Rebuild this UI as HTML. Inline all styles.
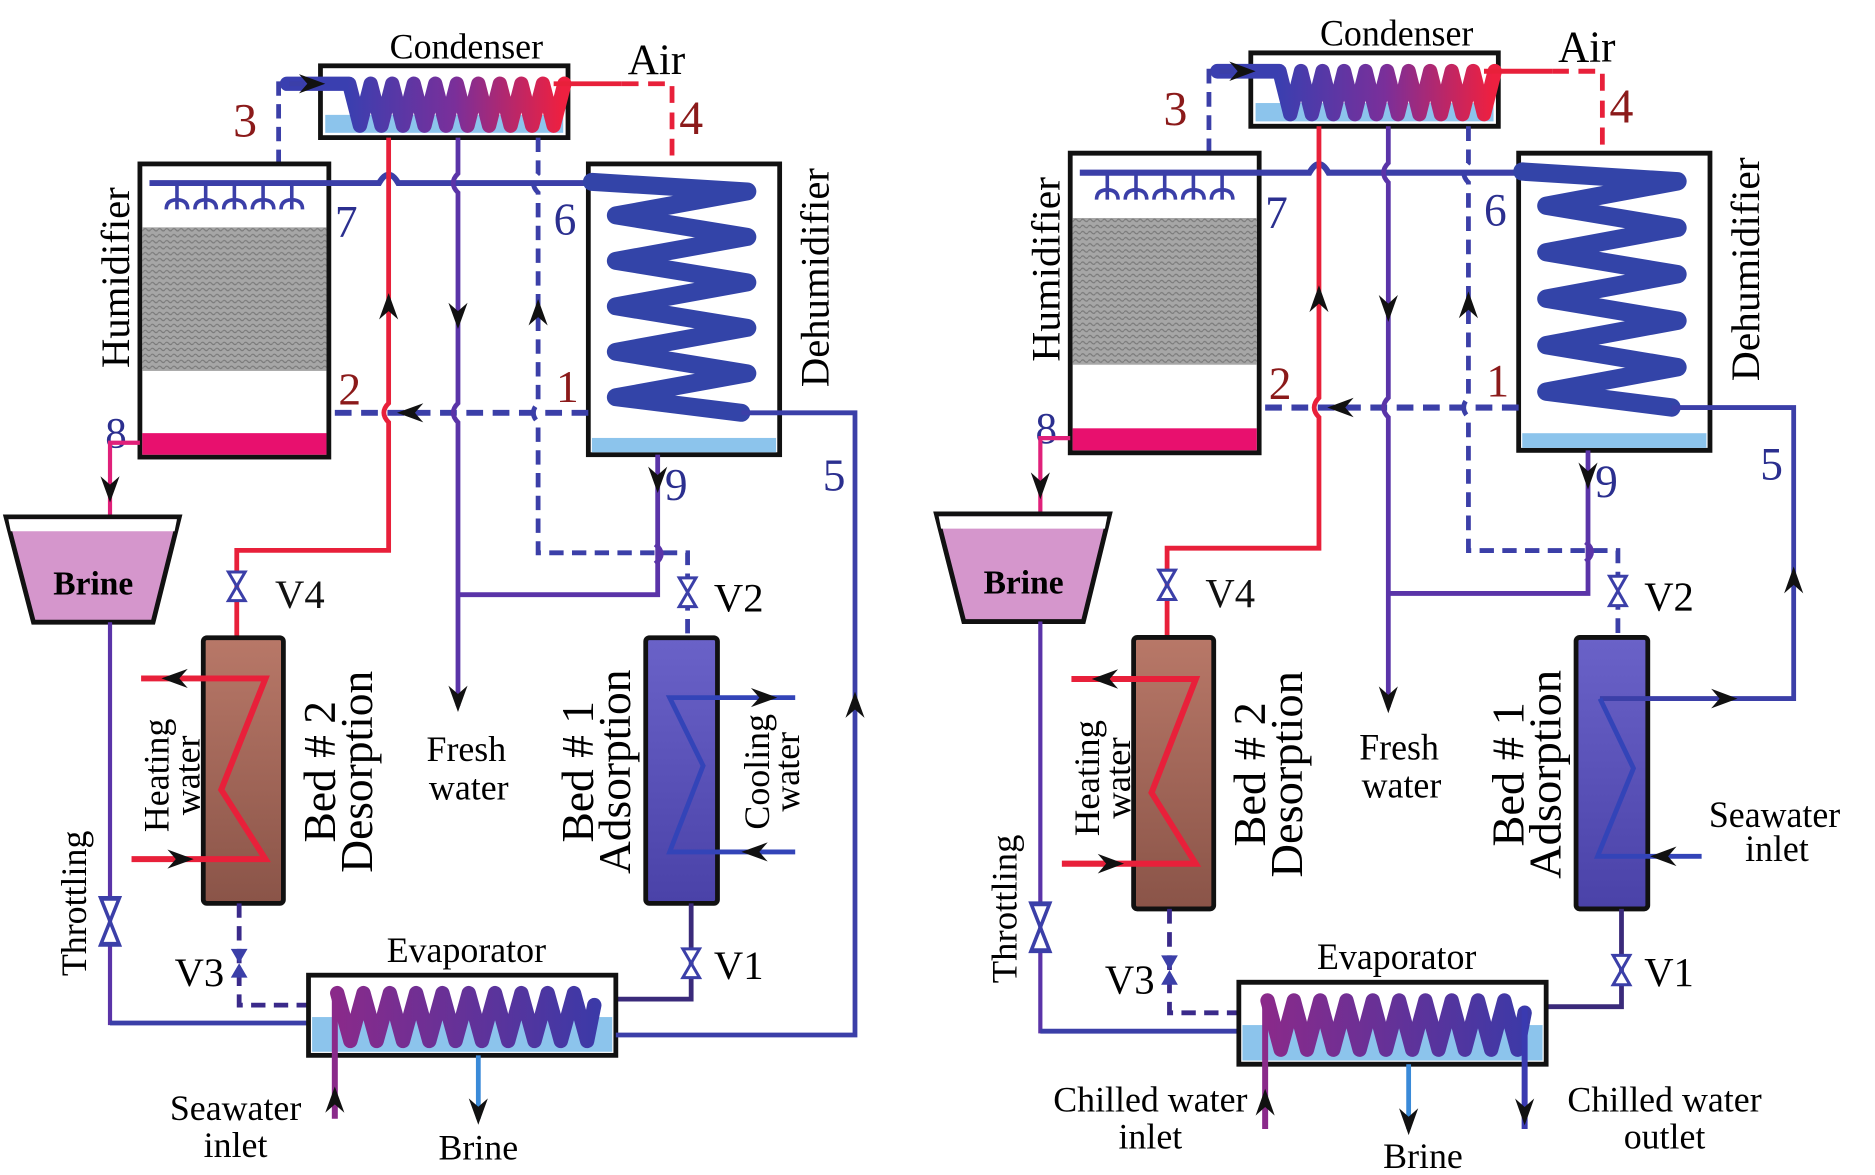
<!DOCTYPE html>
<html><head><meta charset="utf-8"><style>
html,body{margin:0;padding:0;background:#fff;}
svg{display:block;}
text{font-family:"Liberation Serif",serif;}
</style></head><body>
<svg width="1875" height="1175" viewBox="0 0 1568 982" preserveAspectRatio="none" xmlns="http://www.w3.org/2000/svg">
<defs>
<linearGradient id="cg" gradientUnits="userSpaceOnUse" x1="290" y1="0" x2="470" y2="0">
<stop offset="0" stop-color="#3a3fb0"/><stop offset="0.5" stop-color="#7a2f9a"/><stop offset="1" stop-color="#ee2040"/></linearGradient>
<linearGradient id="eg" gradientUnits="userSpaceOnUse" x1="280" y1="0" x2="505" y2="0">
<stop offset="0" stop-color="#8a2a8a"/><stop offset="1" stop-color="#3a3aa8"/></linearGradient>
<linearGradient id="b2" x1="0" y1="0" x2="0" y2="1"><stop offset="0" stop-color="#b87868"/><stop offset="1" stop-color="#8a5448"/></linearGradient>
<linearGradient id="b1" x1="0" y1="0" x2="0" y2="1"><stop offset="0" stop-color="#6a62c8"/><stop offset="1" stop-color="#4a42a8"/></linearGradient>
<pattern id="pk" width="6" height="5" patternUnits="userSpaceOnUse"><rect width="6" height="5" fill="#a6a6a6"/><path d="M0,2 q1.5,-2 3,0 t3,0" stroke="#7a7a7a" stroke-width="1" fill="none"/></pattern>
<path id="ad" d="M-8,-12 L0,10 L8,-12 L0,-5 Z" fill="#111"/>
<g id="vl"><path d="M-7,-12 L7,-12 L-7,12 L7,12 Z" fill="#fff" stroke="#3b3fa8" stroke-width="2.5"/></g>
<g id="sp" stroke="#3b3fa8" stroke-width="3" fill="none"><path d="M0,0 v14 M-9,22 q0,-8 9,-8 q9,0 9,8 M0,14 v8"/></g>

<g id="common">
<!-- Condenser -->
<text x="390" y="49" font-size="30" text-anchor="middle">Condenser</text>
<rect x="268" y="55" width="207" height="60" fill="#fff" stroke="#111" stroke-width="4"/>
<rect x="272" y="96" width="199" height="15" fill="#8cc4ec"/>
<path d="M240,70 L292,70 l9,35 l9,-35 l9,35 l9,-35 l9,35 l9,-35 l9,35 l9,-35 l9,35 l9,-35 l9,35 l9,-35 l9,35 l9,-35 l9,35 l9,-35 l9,35 l9,-35 l9,35 l9,-35" fill="none" stroke="url(#cg)" stroke-width="12" stroke-linejoin="round" stroke-linecap="round"/>
<path d="M463,70 L520,70" stroke="#e8203a" stroke-width="4"/>
<path d="M520,70 L562,70 L562,137" stroke="#e8203a" stroke-width="4" fill="none" stroke-dasharray="14,8"/>
<text x="525" y="62" font-size="36">Air</text>
<text x="568" y="112" font-size="40" fill="#8b1a1a">4</text>
<text x="195" y="114" font-size="40" fill="#8b1a1a">3</text>
<path d="M233,137 L233,70 L262,70" stroke="#3b3fa8" stroke-width="4" fill="none" stroke-dasharray="12,7"/>
<use href="#ad" transform="translate(262,70) rotate(-90)"/>
<!-- Humidifier -->
<rect x="117" y="137" width="158" height="245" fill="#fff" stroke="#111" stroke-width="4"/>
<rect x="119" y="190" width="154" height="120" fill="url(#pk)"/>
<rect x="119" y="362" width="154" height="18" fill="#e8106e"/>
<path d="M125,153 L317,153 q8,-14 16,0 L500,153" stroke="#3b3fa8" stroke-width="5" fill="none"/>
<use href="#sp" transform="translate(148,153)"/><use href="#sp" transform="translate(172,153)"/><use href="#sp" transform="translate(196,153)"/><use href="#sp" transform="translate(220,153)"/><use href="#sp" transform="translate(244,153)"/>
<text transform="translate(108,232) rotate(-90)" font-size="34" text-anchor="middle">Humidifier</text>
<text x="280" y="198" font-size="38" fill="#2b2f8f">7</text>
<text x="463" y="196" font-size="38" fill="#2b2f8f">6</text>
<text x="283" y="338" font-size="38" fill="#8b1a1a">2</text>
<text x="465" y="336" font-size="38" fill="#8b1a1a">1</text>
<text x="88" y="374" font-size="36" fill="#2b2f8f">8</text>
<text x="556" y="418" font-size="38" fill="#2b2f8f">9</text>
<!-- Dehumidifier -->
<rect x="492" y="137" width="160" height="243" fill="#fff" stroke="#111" stroke-width="4"/>
<rect x="495" y="366" width="154" height="12" fill="#8cc4ec"/>
<path d="M495,152 L625,160 L515,180 L625,198 L515,218 L625,236 L515,256 L625,274 L515,294 L625,312 L515,332 L620,345" fill="none" stroke="#3344a8" stroke-width="15" stroke-linejoin="round" stroke-linecap="round"/>
<text transform="translate(693,232) rotate(-90)" font-size="34" text-anchor="middle">Dehumidifier</text>
<!-- air line 2-1 -->
<path d="M492,345 L275,345" stroke="#3b3fa8" stroke-width="5" fill="none" stroke-dasharray="14,8"/>
<use href="#ad" transform="translate(342,345) rotate(90)"/>
<!-- red line -->
<path d="M325,115 L325,337 q-8,8 0,16 L325,460 L198,460 L198,533" stroke="#e8203a" stroke-width="4" fill="none"/>
<use href="#ad" transform="translate(325,255) rotate(180)"/>
<use href="#vl" transform="translate(198,490)"/>
<!-- fresh water line -->
<path d="M383,115 L383,145 q-8,8 0,16 L383,337 q-8,8 0,16 L383,590" stroke="#5a34a8" stroke-width="4" fill="none"/>
<use href="#ad" transform="translate(383,265)"/>
<use href="#ad" transform="translate(383,585)"/>
<path d="M383,497 L550,497 L550,380" stroke="#5a34a8" stroke-width="4" fill="none"/>
<use href="#ad" transform="translate(550,402)"/>
<!-- dashed vapor line -->
<path d="M450,115 L450,145 q-8,8 0,16 L450,337 q-8,8 0,16 L450,462 L575,462 L575,533" stroke="#3b3fa8" stroke-width="4" fill="none" stroke-dasharray="12,7"/>
<use href="#ad" transform="translate(450,260) rotate(180)"/>
<path d="M548,455 q10,8 0,16" stroke="#5a34a8" stroke-width="4" fill="none"/>
<use href="#vl" transform="translate(575,495)"/>
<!-- brine -->
<path d="M117,370 L92,370 L92,432" stroke="#e0207a" stroke-width="3.5" fill="none"/>
<use href="#ad" transform="translate(92,410)"/>
<path d="M5,432 L150,432 L128,520 L28,520 Z" fill="#d596cc" stroke="#111" stroke-width="4"/>
<path d="M7,434 L148,434 L146,444 L9,444 Z" fill="#fff"/>
<text x="78" y="497" font-size="28" text-anchor="middle" font-weight="bold">Brine</text>
<path d="M92,520 L92,855 L258,855" stroke="#5a34a8" stroke-width="3.5" fill="none"/>
<path d="M92,855 L258,855" stroke="#3b3fa8" stroke-width="4"/>
<use href="#vl" transform="translate(92,770) scale(1.1,1.6)"/>
<text transform="translate(72,755) rotate(-90)" font-size="30" text-anchor="middle">Throttling</text>
<!-- Bed 2 -->
<rect x="170" y="533" width="67" height="222" fill="url(#b2)" stroke="#111" stroke-width="4" rx="3"/>
<path d="M118,567 L222,567 L185,660 L222,718 L110,718" stroke="#e8203a" stroke-width="5" fill="none"/>
<use href="#ad" transform="translate(145,567) rotate(90)"/>
<use href="#ad" transform="translate(152,718) rotate(-90)"/>
<text transform="translate(141,648) rotate(-90)" font-size="30" text-anchor="middle">Heating</text>
<text transform="translate(167,648) rotate(-90)" font-size="30" text-anchor="middle">water</text>
<text transform="translate(280,645) rotate(-90)" font-size="38" text-anchor="middle">Bed # 2</text>
<text transform="translate(311,645) rotate(-90)" font-size="38" text-anchor="middle">Desorption</text>
<text x="230" y="508" font-size="34" fill="#111">V4</text>
<!-- V3 -->
<path d="M200,755 L200,840 L258,840" stroke="#3a2a8a" stroke-width="4" fill="none" stroke-dasharray="12,7"/>
<path d="M193,793 L207,793 L193,817 L207,817 Z" fill="#3b3fa8"/>
<text x="146" y="824" font-size="34">V3</text>
<!-- Bed 1 -->
<rect x="540" y="533" width="60" height="222" fill="url(#b1)" stroke="#111" stroke-width="4" rx="3"/>
<path d="M578,755 L578,835 L515,835" stroke="#3a2a7a" stroke-width="4" fill="none"/>
<use href="#vl" transform="translate(578,805)"/>
<text x="597" y="818" font-size="34">V1</text>
<text x="597" y="511" font-size="34">V2</text>
<text transform="translate(496,645) rotate(-90)" font-size="38" text-anchor="middle">Bed # 1</text>
<text transform="translate(527,645) rotate(-90)" font-size="38" text-anchor="middle">Adsorption</text>
<!-- Evaporator -->
<text x="390" y="804" font-size="30" text-anchor="middle">Evaporator</text>
<rect x="258" y="815" width="257" height="67" fill="#fff" stroke="#111" stroke-width="4"/>
<rect x="261" y="850" width="251" height="29" fill="#8cc4ec"/>
<path d="M282,830 l11,40 l11,-40 l11,40 l11,-40 l11,40 l11,-40 l11,40 l11,-40 l11,40 l11,-40 l11,40 l11,-40 l11,40 l11,-40 l11,40 l11,-40 l11,40 l11,-40 l11,40 l6,-30" fill="none" stroke="url(#eg)" stroke-width="12" stroke-linejoin="round" stroke-linecap="round"/>
<path d="M400,882 L400,935" stroke="#3a8ad8" stroke-width="4"/>
<use href="#ad" transform="translate(400,930)"/>
<path d="M280,830 L280,935" stroke="#8a2a8a" stroke-width="5"/>
</g>
</defs>

<!-- LEFT -->
<use href="#common"/>
<path d="M620,345 L715,345 L715,865 L515,865" stroke="#3b3fa8" stroke-width="4" fill="none"/>
<use href="#ad" transform="translate(715,588) rotate(180)"/>
<text x="688" y="410" font-size="38" fill="#2b2f8f">5</text>
<path d="M578,712 L560,712 L588,640 L560,583 L665,583 M578,712 L665,712" stroke="#3344b8" stroke-width="4" fill="none"/>
<use href="#ad" transform="translate(640,583) rotate(-90)"/>
<use href="#ad" transform="translate(630,712) rotate(90)"/>
<text transform="translate(643,645) rotate(-90)" font-size="30" text-anchor="middle">Cooling</text>
<text transform="translate(668,645) rotate(-90)" font-size="30" text-anchor="middle">water</text>
<use href="#ad" transform="translate(280,918) rotate(180)"/>
<text x="197" y="936" font-size="30" text-anchor="middle">Seawater</text>
<text x="197" y="967" font-size="30" text-anchor="middle">inlet</text>
<text x="400" y="969" font-size="30" text-anchor="middle">Brine</text>
<text x="390" y="636" font-size="30" text-anchor="middle">Fresh</text>
<text x="392" y="668" font-size="30" text-anchor="middle">water</text>

<!-- RIGHT -->
<g transform="translate(778,-12) scale(1,1.022)">
<use href="#common"/>
<path d="M620,345 L722,345 L722,583 L560,583" stroke="#3b3fa8" stroke-width="4" fill="none"/>
<use href="#ad" transform="translate(722,485) rotate(180)"/>
<use href="#ad" transform="translate(665,583) rotate(-90)"/>
<text x="694" y="404" font-size="38" fill="#2b2f8f">5</text>
<path d="M560,583 L588,640 L558,712 L645,712" stroke="#3344b8" stroke-width="4" fill="none"/>
<use href="#ad" transform="translate(612,712) rotate(90)"/>
<text x="706" y="688" font-size="30" text-anchor="middle">Seawater</text>
<text x="708" y="716" font-size="30" text-anchor="middle">inlet</text>
<path d="M497,835 L497,935" stroke="#3a3ab0" stroke-width="5"/>
<use href="#ad" transform="translate(497,922)"/>
<use href="#ad" transform="translate(280,912) rotate(180)"/>
<text x="392" y="633" font-size="30" text-anchor="middle">Fresh</text>
<text x="394" y="664" font-size="30" text-anchor="middle">water</text>
</g>
<text x="962" y="929" font-size="30" text-anchor="middle">Chilled water</text>
<text x="962" y="960" font-size="30" text-anchor="middle">inlet</text>
<text x="1190" y="976" font-size="30" text-anchor="middle">Brine</text>
<text x="1392" y="929" font-size="30" text-anchor="middle">Chilled water</text>
<text x="1392" y="960" font-size="30" text-anchor="middle">outlet</text>
</svg>
</body></html>
